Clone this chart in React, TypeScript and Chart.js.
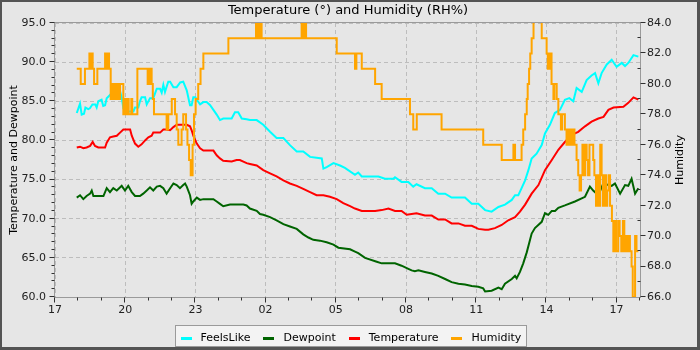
import { useEffect, useRef } from 'react';
import { Chart, registerables } from 'chart.js';

Chart.register(...registerables);

const FONT_FAMILY = '"DejaVu Sans", "Liberation Sans", sans-serif';
const BG = '#e6e6e6';

const TITLE = 'Temperature (°) and Humidity (RH%)';
const LEFT_TITLE = 'Temperature and Dewpoint';
const RIGHT_TITLE = 'Humidity';
const START_HOUR = 17;
const SPAN_HOURS = 25;

const seriesLabels = ['FeelsLike', 'Dewpoint', 'Temperature', 'Humidity'];
const seriesColors = ['#00ffff', '#006400', '#ff0000', '#ffa500'];

// hours after 17:00
const feelsLikeHours = [
  0.93, 1.0, 1.07, 1.14, 1.24, 1.3, 1.42, 1.49, 1.6, 1.72,
  1.78, 1.85, 1.99, 2.06, 2.14, 2.21, 2.35, 2.5, 2.64, 2.78,
  2.85, 2.92, 3.06, 3.13, 3.35, 3.42, 3.56, 3.63, 3.7, 3.85,
  3.92, 4.06, 4.2, 4.35, 4.49, 4.56, 4.63, 4.7, 4.84, 4.92,
  5.06, 5.2, 5.35, 5.48, 5.63, 5.77, 5.84, 5.91, 6.0, 6.06,
  6.2, 6.34, 6.48, 6.63, 6.77, 6.91, 7.05, 7.19, 7.55, 7.69,
  7.83, 7.98, 8.19, 8.33, 8.62, 8.9, 9.19, 9.47, 9.76, 10.04,
  10.33, 10.61, 10.9, 11.18, 11.4, 11.47, 11.61, 11.9, 12.18, 12.39,
  12.82, 12.96, 13.11, 13.82, 14.1, 14.46, 14.53, 14.81, 15.1, 15.31,
  15.45, 15.81, 16.1, 16.38, 16.67, 16.95, 17.52, 17.81, 18.09, 18.38,
  18.66, 18.95, 19.23, 19.52, 19.66, 19.8, 19.94, 20.09, 20.23, 20.37,
  20.58, 20.8, 20.94, 21.15, 21.36, 21.58, 21.79, 21.98, 22.15, 22.29,
  22.51, 22.72, 22.93, 23.08, 23.22, 23.36, 23.58, 23.79, 24.0, 24.22,
  24.36, 24.5, 24.72, 24.93,
];
const feelsLikeValues = [
  83.5, 84.1, 84.7, 83.3, 83.4, 84.2, 84.0, 84.1, 84.6, 84.6,
  84.2, 85.0, 85.2, 84.4, 84.5, 85.4, 85.8, 86.4, 86.2, 86.3,
  85.5, 84.1, 84.1, 83.7, 83.7, 84.2, 84.2, 85.0, 85.5, 85.5,
  84.6, 85.4, 85.4, 86.6, 86.6, 86.1, 87.1, 86.2, 87.5, 87.5,
  86.8, 86.8, 87.4, 87.5, 86.4, 84.5, 84.5, 85.5, 85.5, 85.2,
  84.6, 84.9, 84.9, 84.5, 83.9, 83.3, 82.6, 82.8, 82.8, 83.6,
  83.6, 82.8, 82.7, 82.6, 82.6, 82.0, 81.1, 80.3, 80.3, 79.4,
  78.6, 78.6, 77.9, 77.8, 77.7, 76.4, 76.6, 77.1, 76.8, 76.5,
  75.6, 75.9, 75.4, 75.4, 75.1, 75.1, 75.3, 74.7, 74.7, 74.1,
  74.4, 73.9, 73.9, 73.2, 73.2, 72.7, 72.7, 71.9, 71.9, 71.1,
  70.9, 71.5, 71.8, 72.4, 73.0, 73.0, 73.9, 74.9, 76.2, 77.7,
  78.3, 79.4, 80.9, 82.0, 83.5, 83.9, 85.2, 85.4, 85.0, 86.7,
  86.2, 87.7, 88.3, 88.6, 87.3, 88.6, 89.7, 90.3, 89.4, 89.9,
  89.5, 89.9, 90.9, 90.7,
];

const dewpointHours = [
  0.93, 1.07, 1.21, 1.35, 1.5, 1.57, 1.64, 2.07, 2.21, 2.35,
  2.49, 2.64, 2.85, 2.99, 3.13, 3.28, 3.42, 3.63, 3.77, 3.92,
  4.06, 4.2, 4.35, 4.49, 4.63, 4.77, 4.92, 5.06, 5.2, 5.34,
  5.48, 5.56, 5.63, 5.77, 5.84, 5.91, 6.06, 6.2, 6.34, 6.77,
  6.91, 7.05, 7.19, 7.48, 8.05, 8.19, 8.33, 8.62, 8.76, 8.9,
  9.19, 9.47, 9.76, 10.04, 10.33, 10.61, 10.83, 11.04, 11.32, 11.61,
  11.9, 12.11, 12.61, 12.82, 12.96, 13.25, 13.75, 13.96, 14.53, 14.81,
  15.1, 15.24, 15.38, 15.53, 15.81, 16.1, 16.38, 16.67, 16.95, 17.24,
  17.52, 17.81, 18.09, 18.3, 18.38, 18.66, 18.95, 19.09, 19.23, 19.52,
  19.66, 19.73, 19.87, 20.01, 20.16, 20.37, 20.51, 20.8, 20.94, 21.08,
  21.23, 21.37, 21.51, 21.79, 22.22, 22.65, 22.86, 23.0, 23.22, 23.43,
  23.65, 23.79, 23.93, 24.15, 24.36, 24.5, 24.64, 24.79, 24.93,
];
const dewpointValues = [
  72.7, 73.0, 72.5, 72.9, 73.2, 73.6, 72.9, 72.9, 73.9, 73.4,
  73.9, 73.6, 74.2, 73.6, 74.2, 73.4, 72.9, 72.9, 73.2, 73.6,
  74.0, 73.6, 74.1, 74.2, 73.9, 73.2, 73.9, 74.5, 74.3, 73.9,
  74.3, 74.5, 74.1, 73.0, 71.9, 72.2, 72.7, 72.4, 72.5, 72.5,
  72.2, 71.9, 71.6, 71.8, 71.8, 71.7, 71.3, 71.0, 70.6, 70.5,
  70.2, 69.8, 69.3, 69.0, 68.7, 68.0, 67.6, 67.3, 67.2, 67.0,
  66.7, 66.3, 66.1, 65.8, 65.6, 65.0, 64.5, 64.3, 64.3, 64.0,
  63.6, 63.4, 63.3, 63.4, 63.2, 63.0, 62.7, 62.3, 61.9, 61.7,
  61.6, 61.4, 61.3, 61.1, 60.7, 60.8, 61.2, 61.0, 61.7, 62.3,
  62.7, 62.4, 63.2, 64.3, 65.7, 68.1, 68.8, 69.6, 70.7, 70.5,
  71.0, 71.0, 71.4, 71.7, 72.2, 72.8, 74.1, 73.6, 73.0, 74.5,
  74.3, 74.2, 74.5, 73.2, 74.3, 74.2, 75.1, 73.2, 73.9,
];

const temperatureHours = [
  0.93, 1.07, 1.21, 1.35, 1.5, 1.61, 1.71, 1.85, 2.14, 2.21,
  2.35, 2.49, 2.64, 2.78, 2.92, 3.21, 3.28, 3.42, 3.56, 3.7,
  3.85, 3.99, 4.13, 4.2, 4.49, 4.63, 4.77, 4.92, 5.06, 5.2,
  5.63, 5.77, 5.84, 5.91, 6.06, 6.2, 6.34, 6.77, 6.91, 7.05,
  7.19, 7.55, 7.76, 7.9, 8.05, 8.19, 8.33, 8.62, 8.9, 9.19,
  9.47, 9.76, 10.04, 10.33, 10.61, 10.9, 11.18, 11.47, 11.75, 12.04,
  12.32, 12.61, 12.82, 13.11, 13.68, 13.96, 14.25, 14.53, 14.81, 15.03,
  15.24, 15.45, 15.81, 16.1, 16.38, 16.67, 16.95, 17.24, 17.52, 17.81,
  18.09, 18.38, 18.52, 18.8, 19.09, 19.37, 19.66, 19.87, 20.09, 20.37,
  20.66, 20.94, 21.23, 21.51, 21.79, 22.08, 22.36, 22.65, 22.93, 23.22,
  23.44, 23.65, 23.87, 24.29, 24.5, 24.72, 24.93,
];
const temperatureValues = [
  79.1, 79.2, 79.0, 79.1, 79.3, 79.8, 79.3, 79.1, 79.1, 79.7,
  80.4, 80.5, 80.6, 81.0, 81.4, 81.4, 80.6, 79.6, 79.2, 79.5,
  80.0, 80.4, 80.6, 81.0, 81.0, 81.4, 81.4, 81.3, 81.7, 82.0,
  82.0, 81.8, 81.3, 80.6, 79.6, 79.0, 78.7, 78.7, 78.1, 77.7,
  77.4, 77.3, 77.5, 77.5, 77.3, 77.1, 77.0, 76.8, 76.2, 75.8,
  75.4, 74.9, 74.5, 74.2, 73.8, 73.4, 73.0, 73.0, 72.8, 72.5,
  72.0, 71.6, 71.3, 71.0, 71.0, 71.1, 71.3, 71.0, 71.0, 70.5,
  70.6, 70.7, 70.4, 70.4, 69.9, 69.9, 69.4, 69.4, 69.1, 69.1,
  68.7, 68.6, 68.6, 68.8, 69.2, 69.8, 70.2, 70.9, 71.8, 73.2,
  74.3, 76.2, 77.5, 78.8, 79.8, 80.7, 81.1, 81.8, 82.4, 82.8,
  83.0, 83.9, 84.2, 84.3, 84.8, 85.5, 85.2,
];

const humidityHours = [
  0.93, 1.1, 1.28, 1.47, 1.5, 1.53, 1.56, 1.58, 1.61, 1.67,
  1.81, 2.14, 2.18, 2.21, 2.25, 2.28, 2.31, 2.38, 2.45, 2.49,
  2.55, 2.6, 2.66, 2.72, 2.78, 2.92, 2.97, 3.02, 3.09, 3.15,
  3.21, 3.26, 3.3, 3.52, 3.96, 4.0, 4.04, 4.08, 4.13, 4.18,
  4.23, 4.77, 4.84, 4.99, 5.13, 5.2, 5.27, 5.41, 5.48, 5.6,
  5.66, 5.73, 5.8, 5.88, 5.94, 6.01, 6.12, 6.22, 6.34, 7.41,
  8.59, 8.64, 8.68, 8.72, 8.76, 8.83, 10.54, 10.6, 10.65, 10.73,
  12.04, 12.82, 12.88, 13.11, 13.68, 13.96, 15.17, 15.31, 15.46, 16.52,
  18.3, 19.09, 19.59, 19.66, 19.94, 20.01, 20.09, 20.16, 20.2, 20.26,
  20.31, 20.37, 20.45, 20.8, 21.01, 21.06, 21.1, 21.15, 21.19, 21.22,
  21.3, 21.34, 21.44, 21.51, 21.62, 21.67, 21.79, 21.86, 21.92, 21.97,
  22.02, 22.08, 22.14, 22.2, 22.29, 22.36, 22.42, 22.48, 22.54, 22.6,
  22.66, 22.72, 22.78, 22.84, 23.0, 23.05, 23.12, 23.18, 23.24, 23.3,
  23.36, 23.42, 23.48, 23.55, 23.6, 23.66, 23.72, 23.8, 23.86, 23.92,
  23.98, 24.07, 24.13, 24.2, 24.27, 24.33, 24.4, 24.46, 24.5, 24.57,
  24.64, 24.69, 24.79, 24.85, 24.93,
];
const humidityValues = [
  81, 80, 81, 82, 81, 82, 81, 82, 81, 80,
  81, 82, 81, 82, 81, 82, 81, 79, 80, 79,
  80, 79, 80, 79, 80, 78, 79, 78, 79, 78,
  78, 79, 78, 81, 80, 81, 80, 81, 80, 79,
  78, 77, 78, 79, 78, 77, 76, 77, 78, 77,
  76, 75, 74, 76, 78, 79, 80, 81, 82, 83,
  84, 83, 84, 83, 84, 83, 84, 83, 84, 83,
  82, 81, 82, 81, 80, 79, 78, 77, 78, 77,
  76, 75, 76, 75, 76, 77, 78, 79, 80, 81,
  82, 83, 85, 83, 82, 81, 82, 81, 82, 80,
  79, 80, 79, 78, 77, 78, 77, 76, 77, 76,
  77, 76, 77, 76, 75, 74, 73, 74, 76, 74,
  76, 75, 74, 76, 75, 74, 72, 74, 72, 76,
  74, 72, 74, 72, 73, 74, 72, 71, 69, 71,
  69, 71, 70, 69, 71, 69, 70, 69, 70, 69,
  68, 66, 70, 69, 69,
];

const leftTickStep = 5;
const rightTickStep = 2;
const xTickStep = 3;

function pts(hs: number[], vs: number[]) {
  return hs.map((h, i) => ({ x: h, y: vs[i] }));
}

export default function App() {
  const ref = useRef<HTMLCanvasElement | null>(null);

  useEffect(() => {
    document.body.style.margin = '0';
    const canvas = ref.current;
    if (!canvas) return;

    const framePlugin: any = {
      id: 'framePlugin',
      beforeDraw(chart: any) {
        const { ctx, width, height } = chart;
        ctx.save();
        ctx.fillStyle = '#545454';
        ctx.fillRect(0, 0, width, height);
        ctx.fillStyle = BG;
        ctx.fillRect(2, 2, width - 5, height - 5);
        ctx.restore();
      },
      afterDatasetsDraw(chart: any) {
        const { ctx, chartArea } = chart;
        const { left, right, top, bottom } = chartArea;
        const xs = chart.scales.x;
        const yl = chart.scales.y;
        const yr = chart.scales.y1;
        ctx.save();
        ctx.strokeStyle = '#9a9a9a';
        ctx.lineWidth = 1;
        ctx.strokeRect(Math.round(left) - 0.5, Math.round(top) - 0.5, Math.round(right - left) + 1, Math.round(bottom - top) + 1);
        ctx.strokeStyle = '#303030';
        ctx.beginPath();
        for (let h = 0; h <= SPAN_HOURS; h++) {
          const x = Math.round(xs.getPixelForValue(h)) - 0.5;
          const len = h % xTickStep === 0 ? 5 : 3;
          ctx.moveTo(x, Math.round(bottom) + 0.5);
          ctx.lineTo(x, Math.round(bottom) + 0.5 + len);
        }
        for (let v = yl.min; v <= yl.max; v++) {
          const y = Math.round(yl.getPixelForValue(v)) - 0.5;
          const len = (v - yl.min) % leftTickStep === 0 ? 5 : 3;
          ctx.moveTo(Math.round(left) - 0.5, y);
          ctx.lineTo(Math.round(left) - 0.5 - len, y);
        }
        for (let v = yr.min; v <= yr.max; v++) {
          const y = Math.round(yr.getPixelForValue(v)) - 0.5;
          const major = (v - yr.min) % rightTickStep === 0;
          const x0 = Math.round(right) + 0.5;
          ctx.moveTo(x0, y);
          ctx.lineTo(major ? x0 + 5 : x0 - 3, y);
        }
        ctx.stroke();
        ctx.restore();
      },
      afterDraw(chart: any) {
        const { ctx, chartArea } = chart;
        ctx.save();
        // right axis title, reading bottom to top
        ctx.font = `11px ${FONT_FAMILY}`;
        ctx.fillStyle = '#000';
        ctx.textAlign = 'center';
        ctx.textBaseline = 'middle';
        ctx.translate(680.5, (chartArea.top + chartArea.bottom) / 2);
        ctx.rotate(-Math.PI / 2);
        ctx.fillText(RIGHT_TITLE, 0, 0);
        ctx.restore();

        // legend
        ctx.save();
        ctx.font = `11px ${FONT_FAMILY}`;
        const ds = chart.data.datasets;
        const widths = ds.map((d: any) => ctx.measureText(d.label).width);
        const markerW = 11;
        const markerGap = 9;
        const itemGap = 13;
        const padL = 5;
        const padR = 5;
        let total = padL + padR + itemGap * (ds.length - 1);
        widths.forEach((w: number) => { total += markerW + markerGap + w; });
        const boxLeft = Math.round(350 - total / 2) + 0.5;
        const boxTop = 325.5;
        const boxH = 21;
        ctx.fillStyle = '#f3f3f3';
        ctx.fillRect(boxLeft, boxTop, total, boxH);
        ctx.strokeStyle = '#9a9a9a';
        ctx.lineWidth = 1;
        ctx.strokeRect(boxLeft, boxTop, Math.round(total), boxH);
        let x = boxLeft + padL;
        ctx.textBaseline = 'alphabetic';
        ctx.textAlign = 'left';
        ds.forEach((d: any, i: number) => {
          ctx.fillStyle = d.borderColor;
          ctx.fillRect(Math.round(x), 337, markerW, 3);
          x += markerW + markerGap;
          ctx.fillStyle = '#000';
          ctx.fillText(d.label, x, 341);
          x += widths[i] + itemGap;
        });
        ctx.restore();
      },
    };

    const chart = new Chart(canvas, {
      type: 'line',
      data: {
        datasets: [
          { label: seriesLabels[0], data: pts(feelsLikeHours, feelsLikeValues), borderColor: seriesColors[0], backgroundColor: seriesColors[0], yAxisID: 'y', order: 4 },
          { label: seriesLabels[1], data: pts(dewpointHours, dewpointValues), borderColor: seriesColors[1], backgroundColor: seriesColors[1], yAxisID: 'y', order: 3 },
          { label: seriesLabels[2], data: pts(temperatureHours, temperatureValues), borderColor: seriesColors[2], backgroundColor: seriesColors[2], yAxisID: 'y', order: 2 },
          { label: seriesLabels[3], data: pts(humidityHours, humidityValues), borderColor: seriesColors[3], backgroundColor: seriesColors[3], yAxisID: 'y1', stepped: 'before', order: 1 },
        ],
      },
      options: {
        responsive: false,
        animation: false,
        events: [],
        layout: { padding: { left: 0, right: 4, top: 0, bottom: 0 } },
        elements: {
          point: { radius: 0 },
          line: { borderWidth: 2, tension: 0, fill: false },
        },
        plugins: {
          legend: { display: false },
          tooltip: { enabled: false },
          title: {
            display: true,
            text: TITLE,
            color: '#000',
            font: { family: FONT_FAMILY, size: 13, weight: 'normal' },
            padding: { top: 2.7, bottom: 4.7 },
          },
        },
        scales: {
          x: {
            type: 'linear',
            min: 0,
            max: SPAN_HOURS,
            afterFit: (s: any) => { s.height = 53; },
            ticks: {
              stepSize: xTickStep,
              includeBounds: false,
              autoSkip: false,
              maxRotation: 0,
              padding: 6.6,
              color: '#222',
              font: { family: FONT_FAMILY, size: 11 },
              callback: (v: any) => String((START_HOUR + Number(v)) % 24).padStart(2, '0'),
            },
            grid: { color: '#bdbdbd', lineWidth: 1, drawTicks: false },
            border: { display: false, dash: [4, 3] },
          },
          y: {
            type: 'linear',
            position: 'left',
            min: 60,
            max: 95,
            afterFit: (s: any) => { s.width = 55; },
            ticks: {
              stepSize: leftTickStep,
              padding: 9,
              color: '#222',
              font: { family: FONT_FAMILY, size: 11 },
              callback: (v: any) => Number(v).toFixed(1),
            },
            title: {
              display: true,
              text: LEFT_TITLE,
              color: '#000',
              font: { family: FONT_FAMILY, size: 11 },
              padding: { top: 8, bottom: 0 },
            },
            grid: { color: '#bdbdbd', lineWidth: 1, drawTicks: false },
            border: { display: false, dash: [4, 3] },
          },
          y1: {
            type: 'linear',
            position: 'right',
            min: 66,
            max: 84,
            afterFit: (s: any) => { s.width = 56; },
            ticks: {
              stepSize: rightTickStep,
              padding: 7,
              color: '#222',
              font: { family: FONT_FAMILY, size: 11 },
              callback: (v: any) => Number(v).toFixed(1),
            },
            grid: { drawOnChartArea: false, drawTicks: false },
            border: { display: false },
          },
        },
      } as any,
      plugins: [framePlugin],
    });

    return () => chart.destroy();
  }, []);

  return <canvas ref={ref} width={700} height={350} style={{ display: 'block' }} />;
}
